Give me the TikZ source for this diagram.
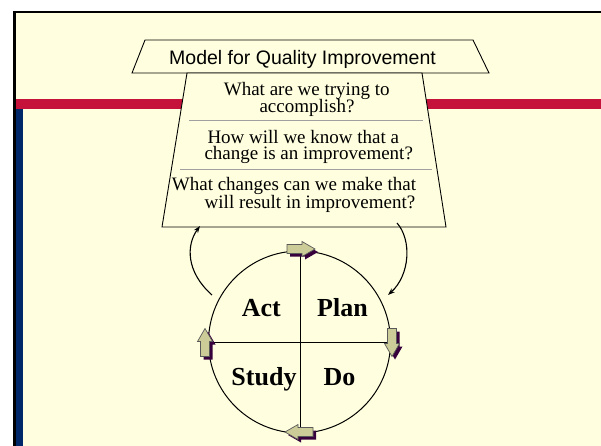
\documentclass[tikz,border=0pt]{standalone}
\usepackage{fontspec}
\setmainfont{Liberation Serif}
\setsansfont{Liberation Sans}
\usetikzlibrary{arrows.meta}
\definecolor{cream}{RGB}{255,255,224}
\definecolor{barred}{RGB}{196,18,58}
\definecolor{barblue}{RGB}{0,40,104}
\definecolor{khaki}{RGB}{204,204,153}
\definecolor{shadowpurple}{RGB}{55,0,60}
\definecolor{sepgray}{RGB}{160,160,160}
\newcommand\blkarrow[3]{%
  \begin{scope}[shift={(#1+3,#2+3)},rotate=#3]
    \fill[shadowpurple] (-14,-4.5) -- (1,-4.5) -- (1,-7.5) -- (14,0) -- (1,7.5) -- (1,4.5) -- (-14,4.5) -- cycle;
  \end{scope}
  \begin{scope}[shift={(#1,#2)},rotate=#3]
    \filldraw[fill=khaki,draw=black!65,line width=0.7pt] (-14,-4.5) -- (1,-4.5) -- (1,-7.5) -- (14,0) -- (1,7.5) -- (1,4.5) -- (-14,4.5) -- cycle;
  \end{scope}}
\begin{document}
\begin{tikzpicture}[x=1pt,y=-1pt,
  qtext/.style={anchor=base,inner sep=0pt,text height=12pt,text depth=3pt,font=\fontsize{19}{17}\selectfont},
  pdsa/.style={anchor=base,inner sep=0pt,font=\fontsize{26}{28}\selectfont\bfseries},
  outline/.style={draw=black,line width=0.9pt},
  loop/.style={draw=black,line width=1.1pt,-{Stealth[length=7pt,width=5pt]}}]
\useasboundingbox (0,0) rectangle (601,446);
\fill[white] (0,0) rectangle (601,446);
% slide frame
\fill[black] (13,10.7) rectangle (601,446);
\fill[cream] (16,13.3) rectangle (601,446);
\fill[barred] (16,99) rectangle (601,109);
\fill[barblue] (16,109) rectangle (22.7,446);
% header trapezoid
\filldraw[outline,fill=cream] (145,40) -- (473,40) -- (489,73) -- (132,73) -- cycle;
\node[inner sep=0pt,anchor=base,font=\sffamily\fontsize{19.5}{20}\selectfont] (title) at (302.5,64.3) {Model for Quality Improvement};
% question trapezoid
\filldraw[outline,fill=cream] (187,73) -- (422,73) -- (446,227) -- (162,227) -- cycle;
\coordinate (trapL) at (200,226);
\coordinate (trapR) at (397,223);
\draw[sepgray,line width=0.8pt] (189,120) -- (423,120);
\draw[sepgray,line width=0.8pt] (180,169) -- (432,169);
\node[qtext] (q1a) at (306.7,95.7) {What are we trying to};
\node[qtext] (q1b) at (307,112.7) {accomplish?};
\node[qtext] (q2a) at (303.3,143.3) {How will we know that a};
\node[qtext] (q2b) at (308.7,160) {change is an improvement?};
\node[qtext] (q3a) at (294,190.7) {What changes can we make that};
\node[qtext] (q3b) at (310,208) {will result in improvement?};
% PDSA circle
\node[circle,draw=black,line width=1pt,minimum size=182pt,inner sep=0pt] (cyc) at (299.5,342) {};
\draw[line width=1pt] (300,251) -- (300,433);
\draw[line width=1pt] (208.5,342) -- (390.5,342);
\coordinate (cycL) at (212,295);
\coordinate (cycR) at (388,295);
\node[pdsa] (act) at (261.3,316.7) {Act};
\node[pdsa] (plan) at (342.5,316.7) {Plan};
\node[pdsa] (study) at (264,385) {Study};
\node[pdsa] (do) at (339.5,385) {Do};
% loop arrows
\draw[loop] (cycL) .. controls (186,272) and (186,245) .. (trapL);
\draw[loop] (trapR) .. controls (412,240) and (410,275) .. (cycR);
% block arrows
\blkarrow{301}{249}{0}
\blkarrow{392}{342.5}{-90}
\blkarrow{205}{342.5}{90}
\blkarrow{299}{432}{180}
\end{tikzpicture}
\end{document}
